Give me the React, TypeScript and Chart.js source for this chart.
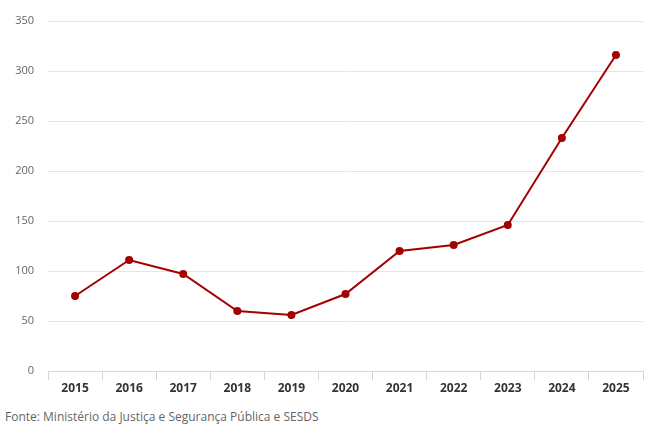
import React, { useEffect, useRef } from "react";
import { Chart, registerables } from "chart.js";

Chart.register(...registerables);

const years = ["2015", "2016", "2017", "2018", "2019", "2020", "2021", "2022", "2023", "2024", "2025"];
const values = [75, 111, 97, 60, 56, 77, 120, 126, 146, 233, 316];
const yMin = 0;
const yMax = 350;
const yStep = 50;
const sourceText = "Fonte: Ministério da Justiça e Segurança Pública e SESDS";

export default function App() {
  const ref = useRef<HTMLCanvasElement>(null);

  useEffect(() => {
    document.body.style.margin = "0";
    const ctx = ref.current!;
    const chart = new Chart(ctx, {
      type: "line",
      data: {
        labels: years,
        datasets: [
          {
            data: values,
            borderColor: "#a50000",
            backgroundColor: "#a50000",
            borderWidth: 2,
            pointRadius: 4,
            pointHoverRadius: 4,
            pointBorderWidth: 0,
            tension: 0,
          },
        ],
      },
      options: {
        animation: false,
        responsive: false,
        maintainAspectRatio: false,
        layout: { padding: { left: 0, right: 24, top: 21, bottom: 0 } },
        plugins: { legend: { display: false }, tooltip: { enabled: false } },
        scales: {
          x: {
            offset: true,
            grid: {
              offset: true,
              drawOnChartArea: false,
              drawTicks: true,
              tickLength: 9,
              color: "#ccd6eb",
            },
            border: { color: "#ccd6eb", width: 1 },
            ticks: {
              color: "#333333",
              padding: 1,
              font: { family: "'Open Sans'", size: 12, weight: "bold" },
              maxRotation: 0,
            },
            afterFit: (s: any) => {
              s.height = 29;
            },
          },
          y: {
            min: yMin,
            max: yMax,
            grid: { color: "#e6e6e6", drawTicks: false },
            border: { display: false },
            ticks: {
              stepSize: yStep,
              color: "#666666",
              padding: 14,
              font: { family: "'Open Sans'", size: 11 },
            },
            afterFit: (s: any) => {
              s.width = 48;
            },
          },
        },
      },
    });
    return () => chart.destroy();
  }, []);

  return (
    <div style={{ position: "relative", width: 667, height: 440, background: "#fff" }}>
      <canvas ref={ref} width={667} height={400} style={{ display: "block" }} />
      <div
        style={{
          position: "absolute",
          left: 5,
          top: 408,
          fontFamily: "'Open Sans'",
          fontSize: 12,
          color: "#666666",
          whiteSpace: "nowrap",
        }}
      >
        {sourceText}
      </div>
    </div>
  );
}
